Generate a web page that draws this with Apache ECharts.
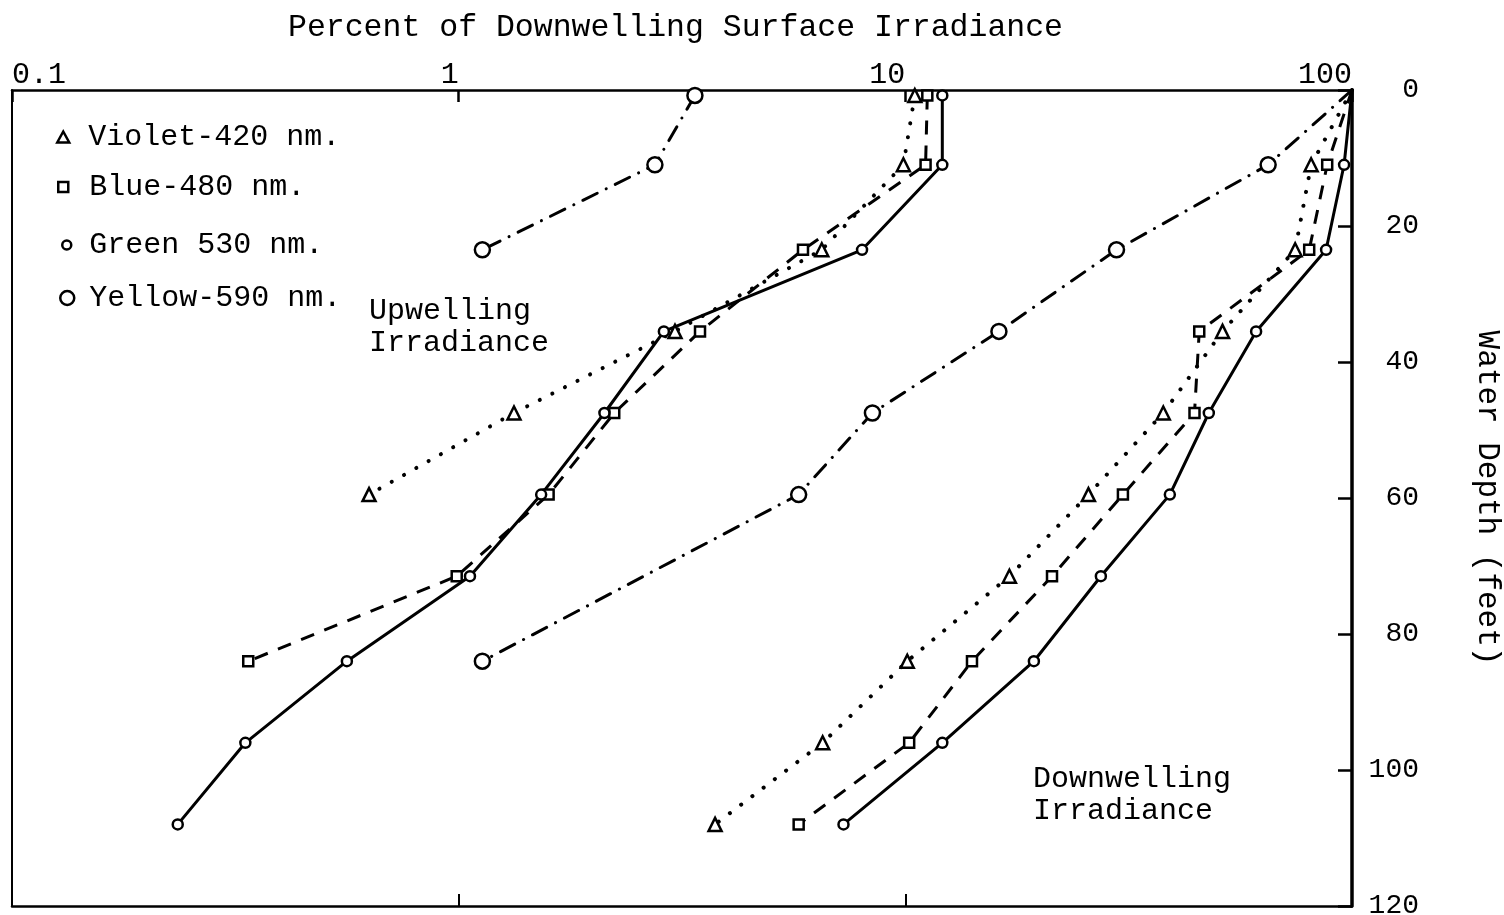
<!DOCTYPE html>
<html>
<head>
<meta charset="utf-8">
<script src="https://cdn.jsdelivr.net/npm/echarts@6/dist/echarts.min.js"></script>
<style>
  html, body { margin: 0; padding: 0; background: #fff; }
  #chart { width: 1504px; height: 915px; }
</style>
</head>
<body>
<div id="chart"></div>
<script>
// Typewriter-style lettering throughout
const FONT = '"Liberation Mono", "Courier New", monospace';

// Spectral bands (legend order)
const bandNames = ['Violet-420 nm.', 'Blue-480 nm.', 'Green 530 nm.', 'Yellow-590 nm.'];

// Axis ticks
const percentTicks = [0.1, 1, 10, 100];
const depthTicks = [0, 20, 40, 60, 80, 100, 120];

// Measurement depths (feet)
const upDepths = [0.8, 11, 23.5, 35.5, 47.5, 59.5, 71.5, 84, 96, 108];
const downDepths = [0, 11, 23.5, 35.5, 47.5, 59.5, 71.5, 84, 96, 108];

// Upwelling irradiance, percent of downwelling surface irradiance
const violetUp = [10.5, 9.9, 6.5, 3.05, 1.33, 0.63];
const blueUp = [11.2, 11.1, 5.9, 3.47, 2.23, 1.59, 0.99, 0.338];
const greenUp = [12.1, 12.1, 8.0, 2.88, 2.12, 1.53, 1.06, 0.562, 0.333, 0.235];
const yellowUp = [3.38, 2.75, 1.13];

// Downwelling irradiance, percent of downwelling surface irradiance
const violetDown = [100, 81, 74.6, 51.3, 37.8, 25.7, 17.1, 10.1, 6.53, 3.75];
const blueDown = [100, 88, 80.2, 45.5, 44.4, 30.7, 21.3, 14.1, 10.2, 5.77];
const greenDown = [100, 96, 87.5, 61, 47.8, 39.1, 27.4, 19.4, 12.1, 7.27];
const yellowDown = [100, 64.9, 29.7, 16.2, 8.44, 5.77, null, 1.13];

// Marker and line style per band
const bandStyle = [
  { symbol: 'triangle', size: 13, line: { type: [0.1, 14], width: 4, cap: 'round' } },
  { symbol: 'rect', size: 10, line: { type: [14, 11], width: 3 } },
  { symbol: 'circle', size: 10, line: { type: 'solid', width: 3 } },
  { symbol: 'circle', size: 15, line: { type: [16, 10, 0.1, 10], width: 3, cap: 'round' } }
];

function pairs(values, depths, hideSurface) {
  const out = [];
  values.forEach((v, i) => {
    if (v == null) return;
    const item = { value: [v, depths[i]] };
    if (hideSurface && i === 0) item.symbol = 'none';
    out.push(item);
  });
  return out;
}

function makeSeries(band, values, depths, hideSurface) {
  const s = bandStyle[band];
  return {
    type: 'line',
    name: bandNames[band],
    xAxisIndex: 0,
    yAxisIndex: 0,
    data: pairs(values, depths, hideSurface),
    symbol: s.symbol,
    symbolSize: s.size,
    showAllSymbol: true,
    clip: false,
    silent: true,
    lineStyle: Object.assign({ color: '#000' }, s.line),
    itemStyle: { color: '#fff', borderColor: '#000', borderWidth: 2.5 }
  };
}

const series = [
  makeSeries(0, violetUp, upDepths, false),
  makeSeries(1, blueUp, upDepths, false),
  makeSeries(2, greenUp, upDepths, false),
  makeSeries(3, yellowUp, upDepths, false),
  makeSeries(0, violetDown, downDepths, true),
  makeSeries(1, blueDown, downDepths, true),
  makeSeries(2, greenDown, downDepths, true),
  makeSeries(3, yellowDown, downDepths, true)
];

// One legend block per band so each key marker keeps its own size
const legendRows = [117, 167, 225, 278];
const legendIcon = [
  { icon: 'triangle', w: 12, h: 11, left: 51, pad: 14 },
  { icon: 'rect', w: 10, h: 10, left: 52, pad: 16 },
  { icon: 'circle', w: 9, h: 9, left: 56, pad: 13 },
  { icon: 'circle', w: 14, h: 14, left: 54, pad: 10 }
];
const legends = bandNames.map((name, i) => ({
  orient: 'vertical',
  left: legendIcon[i].left,
  top: legendRows[i],
  itemWidth: legendIcon[i].w,
  itemHeight: legendIcon[i].h,
  selectedMode: false,
  data: [{
    name: name,
    icon: legendIcon[i].icon,
    itemStyle: { color: '#fff', borderColor: '#000', borderWidth: 2.5 }
  }],
  textStyle: {
    fontFamily: FONT, fontSize: 30, color: '#000', lineHeight: 30,
    padding: [0, 0, 0, legendIcon[i].pad]
  }
}));

const GRID = { left: 12, right: 152, top: 90, bottom: 9 };
const plotWidth = 1504 - GRID.left - GRID.right;

const chart = echarts.init(document.getElementById('chart'), null, { renderer: 'canvas' });
chart.setOption({
  animation: false,
  backgroundColor: '#fff',
  title: {
    text: 'Percent of Downwelling Surface Irradiance',
    left: 283,
    top: 7,
    textStyle: { fontFamily: FONT, fontSize: 31.5, fontWeight: 'normal', color: '#000' }
  },
  legend: legends,
  grid: Object.assign({ containLabel: false, outerBoundsMode: 'none' }, GRID),
  xAxis: [
    {
      type: 'log',
      logBase: 10,
      position: 'top',
      min: percentTicks[0],
      max: percentTicks[percentTicks.length - 1],
      axisLine: { show: true, onZero: false, lineStyle: { color: '#000', width: 2.5 } },
      axisTick: { show: true, inside: true, length: 12, lineStyle: { color: '#000', width: 2.5 } },
      minorTick: { show: false },
      splitLine: { show: false },
      axisLabel: {
        show: true,
        margin: 0,
        align: 'right',
        alignMinLabel: 'left',
        fontFamily: FONT,
        fontSize: 30,
        color: '#000',
        formatter: v => String(v)
      }
    },
    {
      type: 'log',
      logBase: 10,
      position: 'bottom',
      min: percentTicks[0],
      max: percentTicks[percentTicks.length - 1],
      axisLine: { show: true, onZero: false, lineStyle: { color: '#000', width: 2.5 } },
      axisTick: { show: true, inside: true, length: 12, lineStyle: { color: '#000', width: 2 } },
      splitLine: { show: false },
      axisLabel: { show: false }
    }
  ],
  yAxis: [
    {
      type: 'value',
      position: 'right',
      inverse: true,
      min: depthTicks[0],
      max: depthTicks[depthTicks.length - 1],
      interval: 20,
      name: 'Water Depth (feet)',
      nameLocation: 'middle',
      nameRotate: -90,
      nameGap: 120,
      nameTextStyle: { fontFamily: FONT, fontSize: 31, color: '#000' },
      axisLine: { show: true, onZero: false, lineStyle: { color: '#000', width: 3.5 } },
      axisTick: { show: false },
      splitLine: { show: false },
      axisLabel: {
        margin: 67,
        align: 'right',
        fontFamily: FONT,
        fontSize: 28,
        color: '#000'
      }
    },
    {
      type: 'value',
      position: 'left',
      inverse: true,
      min: depthTicks[0],
      max: depthTicks[depthTicks.length - 1],
      interval: 20,
      axisLine: { show: true, onZero: false, lineStyle: { color: '#000', width: 2 } },
      axisTick: { show: false },
      splitLine: { show: false },
      axisLabel: { show: false }
    },
    {
      // depth tick marks pointing into the plot from the right-hand frame
      type: 'value',
      position: 'left',
      offset: -plotWidth,
      min: depthTicks[0],
      max: depthTicks[depthTicks.length - 1],
      interval: 20,
      axisLine: { show: false, onZero: false },
      axisTick: { show: true, inside: false, length: 14, lineStyle: { color: '#000', width: 2.5 } },
      splitLine: { show: false },
      axisLabel: { show: false }
    }
  ],
  graphic: [
    {
      type: 'text', left: 369, top: 295, silent: true,
      style: { text: 'Upwelling\nIrradiance', font: '30px ' + FONT, fill: '#000', lineHeight: 32 }
    },
    {
      type: 'text', left: 1033, top: 763, silent: true,
      style: { text: 'Downwelling\nIrradiance', font: '30px ' + FONT, fill: '#000', lineHeight: 32 }
    }
  ],
  series: series
});
</script>
</body>
</html>
